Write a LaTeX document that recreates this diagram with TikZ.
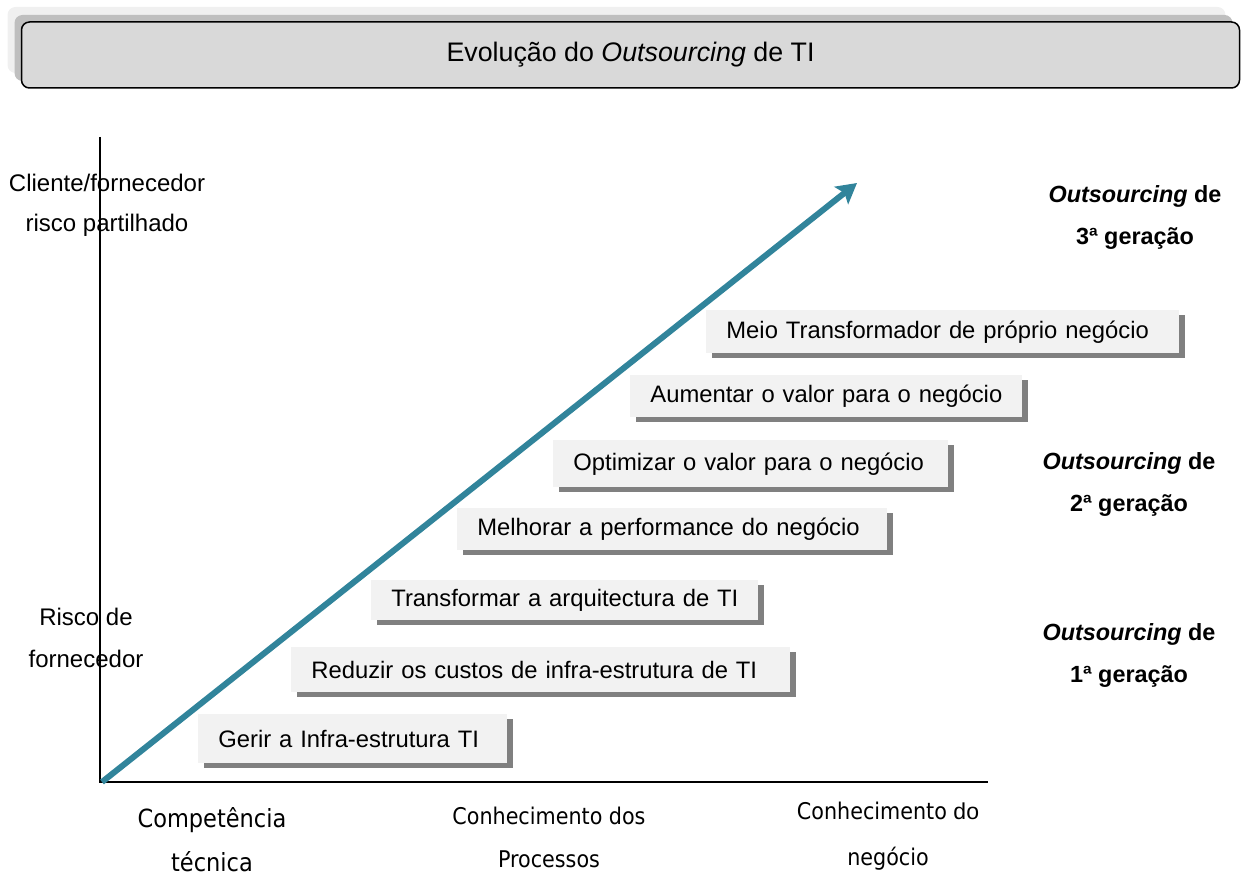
\documentclass[tikz,border=0pt]{standalone}
\usepackage{fontspec}
\setmainfont{Liberation Sans}
\newfontfamily\condfont{DejaVu Sans Condensed}
\usepackage{xcolor}
\usepackage{tikz}
\usetikzlibrary{arrows.meta,shadows,positioning}
\definecolor{azulseta}{RGB}{49,132,155}

\begin{document}
\begin{tikzpicture}[x=0.5pt,y=-0.5pt,
  caixa/.style={anchor=north west,fill=black!5,inner xsep=10pt,inner ysep=0pt,align=left,font=\fontsize{11.9}{14}\selectfont,
    execute at begin node={\hbox to 0pt\bgroup},execute at end node={\hss\egroup},
    drop shadow={shadow xshift=3pt,shadow yshift=-2.5pt,fill=gray,opacity=1}},
  geracao/.style={align=center,font=\bfseries\fontsize{11.7}{21}\selectfont},
  eixo/.style={align=center,font=\fontsize{12}{20}\selectfont},
  base/.style={align=center,font=\condfont\fontsize{11.5}{21.5}\selectfont}]

\useasboundingbox (0,0) rectangle (1241,877);

\node[draw,line width=0.75pt,rounded corners=4pt,fill=black!15,minimum width=609pt,minimum height=33pt,
  general shadow={fill=black!6,shadow xshift=-7pt,shadow yshift=7.5pt},
  general shadow={fill=black!25,shadow xshift=-3.5pt,shadow yshift=3.5pt},
  font=\fontsize{13.4}{16}\selectfont](titulo) at (630.5,55) {Evolução do \textit{Outsourcing} de TI};

\coordinate(O) at (100,782);
\coordinate(ytop) at (100,137);
\coordinate(xfim) at (988,782);
\coordinate(ini) at (102,782);
\coordinate(pico) at (857,183);

\node[caixa,text width=134.5pt,minimum height=24.5pt](c1) at (198,714) {Gerir a Infra-estrutura TI};
\node[caixa,text width=229.5pt,minimum height=22.5pt](c2) at (291,647) {Reduzir os custos de infra-estrutura de TI};
\node[caixa,text width=173.5pt,minimum height=20pt](c3) at (371,580) {Transformar a arquitectura de TI};
\node[caixa,text width=195pt,minimum height=21pt](c4) at (457,508) {Melhorar a performance do negócio};
\node[caixa,text width=177.5pt,minimum height=23.5pt](c5) at (553,440) {Optimizar o valor para o negócio};
\node[caixa,text width=176pt,minimum height=21pt](c6) at (630,375) {Aumentar o valor para o negócio};
\node[caixa,text width=216.5pt,minimum height=21.5pt](c7) at (706,310) {Meio Transformador de próprio negócio};

\draw[line width=0.75pt] (ytop) |- (xfim);
\draw[azulseta,line width=3pt,-{Stealth[length=10pt,width=11pt,inset=2pt]}] (ini) -- (pico);

\node[eixo](cliente) at (107,205) {Cliente/fornecedor\\risco partilhado};
\node[eixo,font=\fontsize{12}{21}\selectfont](risco) at (86,638) {Risco de\\fornecedor};

\node[geracao](g3) at (1135,218) {\textit{Outsourcing} de\\3ª geração};
\node[geracao](g2) at (1129,484) {\textit{Outsourcing} de\\2ª geração};
\node[geracao](g1) at (1129,655) {\textit{Outsourcing} de\\1ª geração};

\node[base,font=\condfont\fontsize{12.5}{22}\selectfont](comp) at (212,840) {Competência\\técnica};
\node[base](proc) at (549,837.5) {Conhecimento dos\\Processos};
\node[base,font=\condfont\fontsize{11.5}{23}\selectfont](neg) at (888,836) {Conhecimento {\rmfamily do}\\negócio};
\end{tikzpicture}
\end{document}
